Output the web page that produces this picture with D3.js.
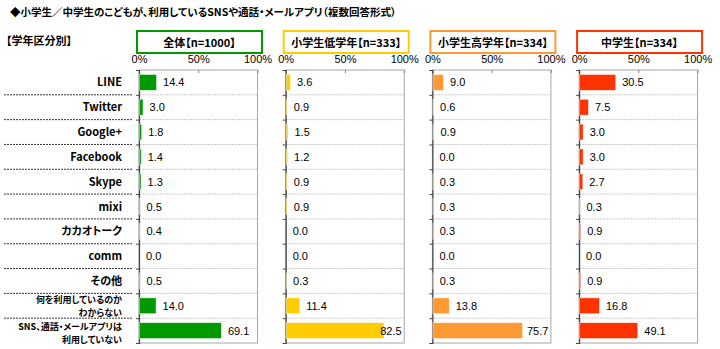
<!DOCTYPE html>
<html><head><meta charset="utf-8">
<script src="https://cdn.jsdelivr.net/npm/d3@7"></script>
<style>
body{margin:0;background:#fff;}
svg{display:block;}
.jp{font-feature-settings:"palt";}
</style></head>
<body>
<svg id="chart" width="720" height="349"></svg>
<script>
const title = "◆小学生／中学生のこどもが、利用しているSNSや通話・メールアプリ（複数回答形式）";
const sectionLabel = "【学年区分別】";
const categories = ["LINE","Twitter","Google+","Facebook","Skype","mixi","カカオトーク","comm","その他","何を利用しているのか\nわからない","SNS、通話・メールアプリは\n利用していない"];
const panelNames = ["全体【n=1000】","小学生低学年【n=333】","小学生高学年【n=334】","中学生【n=334】"];
const panelColors = ["#009900","#FFCC00","#FF9933","#FF3300"];
const valuesAll  = [14.4,3.0,1.8,1.4,1.3,0.5,0.4,0.0,0.5,14.0,69.1];
const valuesLow  = [3.6,0.9,1.5,1.2,0.9,0.9,0.0,0.0,0.3,11.4,82.5];
const valuesHigh = [9.0,0.6,0.9,0.0,0.3,0.3,0.3,0.0,0.3,13.8,75.7];
const valuesJr   = [30.5,7.5,3.0,3.0,2.7,0.3,0.9,0.0,0.9,16.8,49.1];
const seriesValues = [valuesAll, valuesLow, valuesHigh, valuesJr];
const tickValues = [0,50,100];
const tickLabels = ["0%","50%","100%"];

const svg = d3.select("#chart");
const jp = "'Noto Sans CJK JP','Noto Sans',sans-serif";
const num = "'Liberation Sans',Arial,sans-serif";

svg.append("text").attr("class","jp").attr("x",10).attr("y",16).attr("font-family",jp).attr("font-weight","bold")
  .attr("font-size",10.5).attr("fill","#000").text(title);
svg.append("text").attr("class","jp").attr("x",6).attr("y",45).attr("font-family",jp).attr("font-weight","bold")
  .attr("font-size",11).attr("fill","#000").text(sectionLabel);

const plotTop = 70, plotBottom = 343;
const y = d3.scaleBand().domain(categories).range([plotTop,plotBottom]).padding(0);
const step = y.step();
const barH = step*0.64;

const panelX = d3.scaleBand().domain(panelNames).range([139,139+146.7*4]).padding(0);
const pw = 118.5;

// row labels
const lbl = svg.append("g");
categories.forEach((c,i)=>{
  const lines = c.split("\n");
  const cy = y(c)+step/2;
  if(lines.length===1){
    lbl.append("text").attr("class","jp").attr("text-anchor","end").attr("font-family",jp)
      .attr("font-weight","bold").attr("font-size",11).attr("fill","#000")
      .attr("x",122).attr("y",cy+4).text(lines[0]);
  } else {
    const shift = (i===categories.length-1) ? 2 : 0;
    lines.forEach((l,j)=>{
      lbl.append("text").attr("class","jp").attr("text-anchor","end").attr("font-family",jp)
        .attr("font-weight","bold").attr("font-size",9).attr("fill","#000")
        .attr("x",122).attr("y",cy-3+shift+j*13.3).text(l);
    });
  }
  if(i>0){
    lbl.append("line").attr("x1",4).attr("x2",132).attr("y1",y(c)).attr("y2",y(c))
      .attr("stroke","#000").attr("stroke-width",0.8).attr("stroke-dasharray","2,1");
  }
});

panelNames.forEach((name,pi)=>{
  const x0 = panelX(name);
  const x = d3.scaleLinear().domain([0,100]).range([x0,x0+pw]);
  const g = svg.append("g");
  const col = panelColors[pi];
  // header box
  g.append("rect").attr("x",x0-2).attr("y",31).attr("width",125).attr("height",22)
    .attr("fill","#fff").attr("stroke",col).attr("stroke-width",2);
  g.append("text").attr("class","jp").attr("x",x0-2+62.5).attr("y",46.5).attr("text-anchor","middle")
    .attr("font-family",jp).attr("font-weight","bold").attr("font-size",11).text(name);
  // frame
  g.append("rect").attr("x",x0).attr("y",plotTop).attr("width",pw).attr("height",plotBottom-plotTop)
    .attr("fill","#fff").attr("stroke","#a6a6a6").attr("stroke-width",1);
  // separators
  categories.slice(1).forEach(c=>{
    g.append("line").attr("x1",x0).attr("x2",x0+pw).attr("y1",y(c)).attr("y2",y(c))
      .attr("stroke","#c8c8c8").attr("stroke-width",1).attr("stroke-dasharray","2,1");
  });
  // top axis
  const ax = d3.axisTop(x).tickValues(tickValues).tickFormat((d,i)=>tickLabels[i]).tickSize(-3).tickPadding(7);
  const ag = g.append("g").attr("transform",`translate(0,${plotTop})`).call(ax);
  ag.select(".domain").remove();
  ag.selectAll("line").attr("stroke","#888");
  ag.selectAll("text").attr("font-family",num).attr("font-size",11).attr("fill","#000");
  // left axis
  const ly = d3.scaleLinear().domain([0,categories.length]).range([plotTop,plotBottom]);
  const lax = d3.axisLeft(ly).tickValues(d3.range(0,categories.length+1)).tickSize(3).tickFormat("");
  const lg = g.append("g").attr("transform",`translate(${x0},0)`).call(lax);
  lg.select(".domain").attr("stroke","#444").attr("stroke-width",1.2);
  lg.selectAll(".tick line").attr("stroke","#444");
  // bars
  const vals = seriesValues[pi];
  g.selectAll(".bar").data(vals).enter().append("rect")
    .attr("x",x0+0.5).attr("y",(d,i)=>y(categories[i])+(step-barH)/2)
    .attr("width",d=>Math.max(0,x(d)-x0))
    .attr("height",barH).attr("fill",col)
    .attr("stroke",d=>d>0?"#fff":"none").attr("stroke-opacity",0.6).attr("stroke-width",0.8);
  g.selectAll(".val").data(vals).enter().append("text")
    .attr("x",d=>Math.min(x(d)+7, x0+pw-24))
    .attr("y",(d,i)=>y(categories[i])+step/2+4)
    .attr("font-family",num).attr("font-size",11).attr("fill","#000")
    .text(d=>d.toFixed(1));
});
</script>
</body></html>
